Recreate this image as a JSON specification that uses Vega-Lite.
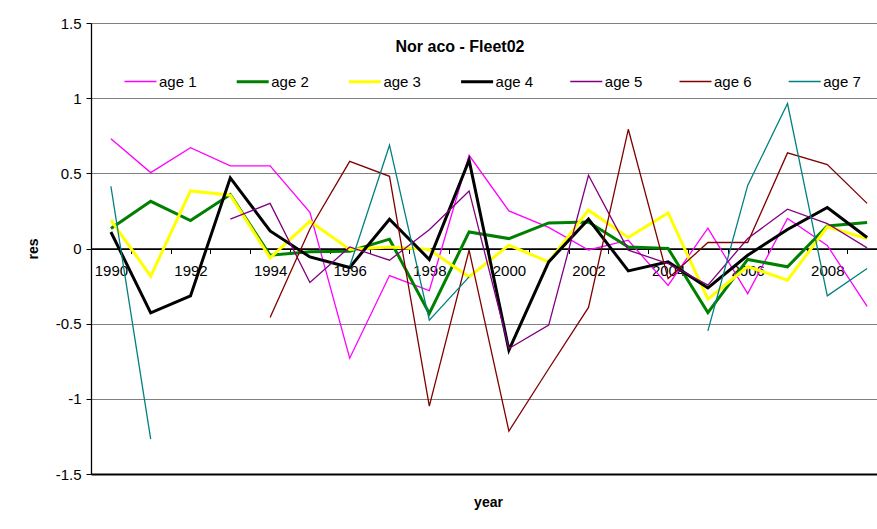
{
  "$schema": "https://vega.github.io/schema/vega-lite/v6.json",
  "width": 786,
  "height": 451,
  "autosize": {"type": "none"},
  "padding": {"left": 91, "top": 23, "right": 0, "bottom": 55},
  "background": "white",
  "config": {"view": {"stroke": null}, "font": "Liberation Sans"},
  "title": {"text": "Nor aco - Fleet02", "font": "Liberation Sans", "fontSize": 16, "fontWeight": "bold", "color": "black", "anchor": "middle", "baseline": "alphabetic", "offset": -24, "dx": -24, "dy": 28},
  "data": {"values": [
    {"year": 1990, "age": "age 1", "res": 0.73}, {"year": 1991, "age": "age 1", "res": 0.505}, {"year": 1992, "age": "age 1", "res": 0.67}, {"year": 1993, "age": "age 1", "res": 0.55}, {"year": 1994, "age": "age 1", "res": 0.55}, {"year": 1995, "age": "age 1", "res": 0.24}, {"year": 1996, "age": "age 1", "res": -0.73}, {"year": 1997, "age": "age 1", "res": -0.18}, {"year": 1998, "age": "age 1", "res": -0.28}, {"year": 1999, "age": "age 1", "res": 0.62}, {"year": 2000, "age": "age 1", "res": 0.25}, {"year": 2001, "age": "age 1", "res": 0.14}, {"year": 2002, "age": "age 1", "res": -0.01}, {"year": 2003, "age": "age 1", "res": 0.055}, {"year": 2004, "age": "age 1", "res": -0.245}, {"year": 2005, "age": "age 1", "res": 0.135}, {"year": 2006, "age": "age 1", "res": -0.3}, {"year": 2007, "age": "age 1", "res": 0.2}, {"year": 2008, "age": "age 1", "res": 0.02}, {"year": 2009, "age": "age 1", "res": -0.385},
    {"year": 1990, "age": "age 2", "res": 0.133}, {"year": 1991, "age": "age 2", "res": 0.314}, {"year": 1992, "age": "age 2", "res": 0.186}, {"year": 1993, "age": "age 2", "res": 0.359}, {"year": 1994, "age": "age 2", "res": -0.045}, {"year": 1995, "age": "age 2", "res": -0.022}, {"year": 1996, "age": "age 2", "res": -0.018}, {"year": 1997, "age": "age 2", "res": 0.062}, {"year": 1998, "age": "age 2", "res": -0.432}, {"year": 1999, "age": "age 2", "res": 0.11}, {"year": 2000, "age": "age 2", "res": 0.066}, {"year": 2001, "age": "age 2", "res": 0.17}, {"year": 2002, "age": "age 2", "res": 0.177}, {"year": 2003, "age": "age 2", "res": 0.01}, {"year": 2004, "age": "age 2", "res": 0.0}, {"year": 2005, "age": "age 2", "res": -0.426}, {"year": 2006, "age": "age 2", "res": -0.073}, {"year": 2007, "age": "age 2", "res": -0.122}, {"year": 2008, "age": "age 2", "res": 0.15}, {"year": 2009, "age": "age 2", "res": 0.173},
    {"year": 1990, "age": "age 3", "res": 0.188}, {"year": 1991, "age": "age 3", "res": -0.184}, {"year": 1992, "age": "age 3", "res": 0.383}, {"year": 1993, "age": "age 3", "res": 0.354}, {"year": 1994, "age": "age 3", "res": -0.062}, {"year": 1995, "age": "age 3", "res": 0.181}, {"year": 1996, "age": "age 3", "res": -0.007}, {"year": 1997, "age": "age 3", "res": 0.01}, {"year": 1998, "age": "age 3", "res": -0.007}, {"year": 1999, "age": "age 3", "res": -0.189}, {"year": 2000, "age": "age 3", "res": 0.022}, {"year": 2001, "age": "age 3", "res": -0.089}, {"year": 2002, "age": "age 3", "res": 0.255}, {"year": 2003, "age": "age 3", "res": 0.073}, {"year": 2004, "age": "age 3", "res": 0.237}, {"year": 2005, "age": "age 3", "res": -0.337}, {"year": 2006, "age": "age 3", "res": -0.12}, {"year": 2007, "age": "age 3", "res": -0.211}, {"year": 2008, "age": "age 3", "res": 0.144}, {"year": 2009, "age": "age 3", "res": 0.066},
    {"year": 1990, "age": "age 4", "res": 0.11}, {"year": 1991, "age": "age 4", "res": -0.428}, {"year": 1992, "age": "age 4", "res": -0.315}, {"year": 1993, "age": "age 4", "res": 0.47}, {"year": 1994, "age": "age 4", "res": 0.117}, {"year": 1995, "age": "age 4", "res": -0.056}, {"year": 1996, "age": "age 4", "res": -0.126}, {"year": 1997, "age": "age 4", "res": 0.195}, {"year": 1998, "age": "age 4", "res": -0.073}, {"year": 1999, "age": "age 4", "res": 0.587}, {"year": 2000, "age": "age 4", "res": -0.676}, {"year": 2001, "age": "age 4", "res": -0.089}, {"year": 2002, "age": "age 4", "res": 0.195}, {"year": 2003, "age": "age 4", "res": -0.149}, {"year": 2004, "age": "age 4", "res": -0.089}, {"year": 2005, "age": "age 4", "res": -0.262}, {"year": 2006, "age": "age 4", "res": -0.045}, {"year": 2007, "age": "age 4", "res": 0.126}, {"year": 2008, "age": "age 4", "res": 0.273}, {"year": 2009, "age": "age 4", "res": 0.073},
    {"year": 1993, "age": "age 5", "res": 0.195}, {"year": 1994, "age": "age 5", "res": 0.3}, {"year": 1995, "age": "age 5", "res": -0.226}, {"year": 1996, "age": "age 5", "res": 0.01}, {"year": 1997, "age": "age 5", "res": -0.078}, {"year": 1998, "age": "age 5", "res": 0.125}, {"year": 1999, "age": "age 5", "res": 0.383}, {"year": 2000, "age": "age 5", "res": -0.665}, {"year": 2001, "age": "age 5", "res": -0.51}, {"year": 2002, "age": "age 5", "res": 0.487}, {"year": 2003, "age": "age 5", "res": -0.011}, {"year": 2004, "age": "age 5", "res": -0.1}, {"year": 2005, "age": "age 5", "res": -0.244}, {"year": 2006, "age": "age 5", "res": 0.066}, {"year": 2007, "age": "age 5", "res": 0.261}, {"year": 2008, "age": "age 5", "res": 0.166}, {"year": 2009, "age": "age 5", "res": 0.004},
    {"year": 1994, "age": "age 6", "res": -0.459}, {"year": 1995, "age": "age 6", "res": 0.13}, {"year": 1996, "age": "age 6", "res": 0.58}, {"year": 1997, "age": "age 6", "res": 0.48}, {"year": 1998, "age": "age 6", "res": -1.048}, {"year": 1999, "age": "age 6", "res": -0.011}, {"year": 2000, "age": "age 6", "res": -1.215}, {"year": 2001, "age": "age 6", "res": -0.8}, {"year": 2002, "age": "age 6", "res": -0.392}, {"year": 2003, "age": "age 6", "res": 0.793}, {"year": 2004, "age": "age 6", "res": -0.2}, {"year": 2005, "age": "age 6", "res": 0.04}, {"year": 2006, "age": "age 6", "res": 0.04}, {"year": 2007, "age": "age 6", "res": 0.636}, {"year": 2008, "age": "age 6", "res": 0.558}, {"year": 2009, "age": "age 6", "res": 0.3},
    {"year": 1990, "age": "age 7", "res": 0.414}, {"year": 1991, "age": "age 7", "res": -1.268}, {"year": 1992, "age": "age 7", "res": null}, {"year": 1996, "age": "age 7", "res": -0.12}, {"year": 1997, "age": "age 7", "res": 0.687}, {"year": 1998, "age": "age 7", "res": -0.477}, {"year": 1999, "age": "age 7", "res": -0.189}, {"year": 2000, "age": "age 7", "res": null}, {"year": 2005, "age": "age 7", "res": -0.548}, {"year": 2006, "age": "age 7", "res": 0.42}, {"year": 2007, "age": "age 7", "res": 0.964}, {"year": 2008, "age": "age 7", "res": -0.315}, {"year": 2009, "age": "age 7", "res": -0.133}
  ]},
  "mark": {"type": "line", "invalid": "break-paths-show-domains"},
  "encoding": {
    "x": {
      "field": "year", "type": "ordinal",
      "scale": {"type": "band", "paddingInner": 0, "paddingOuter": 0, "range": [0, 796]},
      "axis": {
        "title": "year", "titleFont": "Liberation Sans", "titleFontSize": 14, "titleFontWeight": "bold", "titleColor": "black",
        "titleX": 397, "titleY": 258, "titleAlign": "center", "titleBaseline": "alphabetic",
        "offset": -225.5, "tickBand": "extent", "ticks": true, "tickColor": "black", "tickSize": 5, "tickWidth": 1,
        "domainColor": "black", "domainWidth": 1.3, "grid": false,
        "labelFont": "Liberation Sans", "labelFontSize": 15, "labelColor": "black", "labelPadding": 10, "labelAngle": 0,
        "labelOverlap": false, "labelExpr": "datum.value % 2 == 0 ? datum.label : ''"
      }
    },
    "y": {
      "field": "res", "type": "quantitative",
      "scale": {"domain": [-1.5, 1.5], "nice": false, "zero": false},
      "axis": {
        "title": "res", "titleFont": "Liberation Sans", "titleFontSize": 14, "titleFontWeight": "bold", "titleColor": "black",
        "titleX": -58, "titleY": 225.5, "titleAngle": -90, "titleAlign": "center", "titleBaseline": "middle",
        "values": [-1.5, -1, -0.5, 0, 0.5, 1, 1.5], "labelExpr": "'' + datum.value",
        "labelFont": "Liberation Sans", "labelFontSize": 15, "labelColor": "black", "labelPadding": 5,
        "tickSize": 5, "tickColor": "black", "domainColor": "black", "domainWidth": 1.3,
        "grid": true,
        "gridColor": {"condition": {"test": "datum.value <= -1.5 || datum.value == 0", "value": "black"}, "value": "#808080"},
        "gridWidth": {"condition": {"test": "datum.value <= -1.5", "value": 2}, "value": 1.2}
      }
    },
    "color": {
      "field": "age", "type": "nominal",
      "scale": {"domain": ["age 1", "age 2", "age 3", "age 4", "age 5", "age 6", "age 7"], "range": ["#FF00FF", "#008000", "#FFFF00", "#000000", "#800080", "#800000", "#008080"]},
      "legend": {"orient": "none", "legendX": 26, "legendY": 35, "direction": "horizontal", "columns": 7, "title": null, "symbolType": "stroke", "symbolSize": 1024, "labelFont": "Liberation Sans", "labelFontSize": 15, "labelColor": "black", "labelOffset": 1, "columnPadding": 33.2, "padding": 6, "fillColor": "white"}
    },
    "strokeWidth": {
      "field": "age", "type": "nominal",
      "scale": {"type": "ordinal", "domain": ["age 1", "age 2", "age 3", "age 4", "age 5", "age 6", "age 7"], "range": [1.3, 3, 3, 3, 1.3, 1.3, 1.3]},
      "legend": {"orient": "none", "legendX": 26, "legendY": 35, "direction": "horizontal", "columns": 7, "title": null, "symbolType": "stroke", "symbolSize": 1024, "labelFont": "Liberation Sans", "labelFontSize": 15, "labelColor": "black", "labelOffset": 1, "columnPadding": 33.2, "padding": 6, "fillColor": "white"}
    }
  }
}
